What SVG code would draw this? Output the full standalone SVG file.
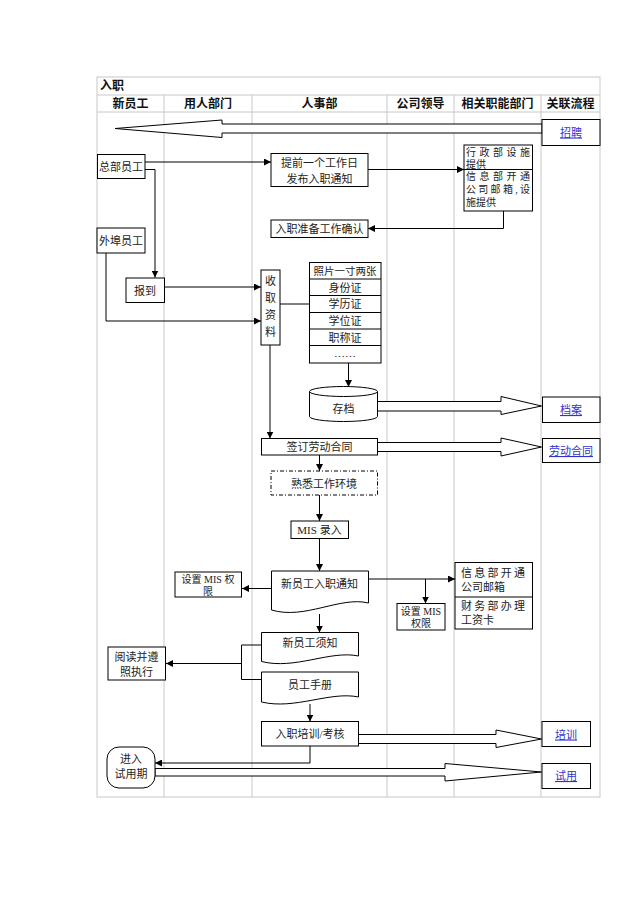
<svg xmlns="http://www.w3.org/2000/svg" width="640" height="905" viewBox="0 0 640 905">
<defs>
<marker id="ah" viewBox="0 0 10 10" refX="10" refY="5" markerWidth="7" markerHeight="7" orient="auto" markerUnits="userSpaceOnUse">
<path d="M0,0 L10,5 L0,10 z" fill="#000"/>
</marker>
<style>
.grid{stroke:#c8c8c8;stroke-width:1;fill:none}
.hd{font-family:"Noto Sans CJK SC","Liberation Sans",sans-serif;font-size:12px;font-weight:bold;fill:#111;text-anchor:middle}
.bx{fill:#fff;stroke:#000;stroke-width:1}
.t{font-family:"Liberation Serif","Noto Sans CJK SC",serif;font-size:11px;fill:#222;text-anchor:middle}
.s{font-size:10px}
.lk{font-family:"Noto Sans CJK SC","Liberation Sans",sans-serif;font-size:11px;fill:#3333cc;text-anchor:middle;text-decoration:underline}
.c{fill:none;stroke:#000;stroke-width:1}
.ca{fill:none;stroke:#000;stroke-width:1;marker-end:url(#ah)}
.fat{fill:#fff;stroke:#000;stroke-width:1}
</style>
</defs>
<rect width="640" height="905" fill="#fff"/>
<g id="table">
<rect class="grid" x="97" y="77" width="503" height="720"/>
<line class="grid" x1="97" y1="95" x2="600" y2="95"/>
<line class="grid" x1="97" y1="112" x2="600" y2="112"/>
<line class="grid" x1="164" y1="95" x2="164" y2="797"/>
<line class="grid" x1="252" y1="95" x2="252" y2="797"/>
<line class="grid" x1="387" y1="95" x2="387" y2="797"/>
<line class="grid" x1="454" y1="95" x2="454" y2="797"/>
<line class="grid" x1="541" y1="95" x2="541" y2="797"/>
<text class="hd" x="100" y="90" style="text-anchor:start">入职</text>
<text class="hd" x="130.5" y="108">新员工</text>
<text class="hd" x="208" y="108">用人部门</text>
<text class="hd" x="319.5" y="108">人事部</text>
<text class="hd" x="420.5" y="108">公司领导</text>
<text class="hd" x="497.5" y="108">相关职能部门</text>
<text class="hd" x="570.5" y="108">关联流程</text>
</g>
<g id="connectors">
<polygon class="fat" points="115,128.5 222,120 222,124 542,124 542,133 222,133 222,137.5"/>
<polygon class="fat" points="377.5,401.5 501,401.5 501,396.5 541.5,406 501,414.5 501,411 377.5,411"/>
<polygon class="fat" points="377.5,442.5 501,442.5 501,438 541.5,447 501,456 501,451.5 377.5,451.5"/>
<polygon class="fat" points="358.5,734.5 496,734.5 496,730 541.5,739 496,747.5 496,743.5 358.5,743.5"/>
<polygon class="fat" points="155,768.5 445,768.5 445,763.5 541.5,772 445,781 445,776 155,776"/>
<path class="ca" d="M145,162 H271"/>
<path class="ca" d="M145,169.5 H155 V277.5"/>
<path class="ca" d="M106,253 V321 H261"/>
<path class="ca" d="M164.5,287 H261"/>
<path class="ca" d="M368,169.5 H464"/>
<path class="ca" d="M503.5,211 V228.5 H368"/>
<path class="c" d="M280,304 H309.5"/>
<path class="ca" d="M348.5,363 V387"/>
<path class="ca" d="M270,345 V438.5"/>
<path class="ca" d="M319.5,455 V471"/>
<path class="ca" d="M319.5,495 V521"/>
<path class="ca" d="M319.5,538.5 V571"/>
<path class="ca" d="M271.5,588.5 H242"/>
<path class="ca" d="M368.5,579 H455"/>
<path class="ca" d="M425.5,579 V603.5"/>
<path class="ca" d="M319.5,614 V632.5"/>
<path class="c" d="M261.5,645 H241.5 V679.5 H261.5"/>
<path class="ca" d="M241.5,663.5 H166"/>
<path class="ca" d="M310,704 V721.5"/>
<path class="ca" d="M310,746 V763 H155"/>
</g>
<g id="n-zhaopin"><rect class="bx" x="542" y="119.5" width="58" height="26"/><text class="lk" x="571" y="136.5">招聘</text></g>
<g id="n-zongbu"><rect class="bx" x="97.5" y="154.5" width="47.5" height="24"/><text class="t" x="121" y="171">总部员工</text></g>
<g id="n-waibu"><rect class="bx" x="97" y="228" width="48" height="25"/><text class="t" x="121" y="245">外埠员工</text></g>
<g id="n-baodao"><rect class="bx" x="126" y="278" width="38.5" height="24.5"/><text class="t" x="145" y="295">报到</text></g>
<g id="n-tiqian"><rect class="bx" x="271" y="153.5" width="97" height="33"/><text class="t" x="319.5" y="166.5">提前一个工作日</text><text class="t" x="319.5" y="182.5">发布入职通知</text></g>
<g id="n-xingzheng"><rect class="bx" x="464" y="145" width="68.5" height="66"/><line class="c" x1="464" y1="169.5" x2="532.5" y2="169.5"/>
<text class="t s" x="466" y="156" textLength="64" lengthAdjust="spacing" style="text-anchor:start">行政部设施</text>
<text class="t s" x="466" y="168" style="text-anchor:start">提供</text>
<text class="t s" x="466" y="180" textLength="64" lengthAdjust="spacing" style="text-anchor:start">信息部开通</text>
<text class="t s" x="466" y="193" textLength="64" lengthAdjust="spacing" style="text-anchor:start">公司邮箱,设</text>
<text class="t s" x="466" y="206" style="text-anchor:start">施提供</text></g>
<g id="n-zhunbei"><rect class="bx" x="271" y="220" width="97" height="17.5"/><text class="t" x="319.5" y="232.5">入职准备工作确认</text></g>
<g id="n-shouqu"><rect class="bx" x="261" y="270" width="19" height="75"/>
<text class="t" x="270.5" y="285">收</text><text class="t" x="270.5" y="302">取</text><text class="t" x="270.5" y="319">资</text><text class="t" x="270.5" y="336">料</text></g>
<g id="n-stack">
<rect class="bx" x="309.5" y="262.5" width="71.5" height="100.5"/>
<line class="c" x1="309.5" y1="279" x2="381" y2="279"/>
<line class="c" x1="309.5" y1="295.5" x2="381" y2="295.5"/>
<line class="c" x1="309.5" y1="312.5" x2="381" y2="312.5"/>
<line class="c" x1="309.5" y1="329" x2="381" y2="329"/>
<line class="c" x1="309.5" y1="345.5" x2="381" y2="345.5"/>
<text class="t" x="345" y="275" style="font-size:10.5px">照片一寸两张</text>
<text class="t" x="345" y="291.5">身份证</text>
<text class="t" x="345" y="308">学历证</text>
<text class="t" x="345" y="325">学位证</text>
<text class="t" x="345" y="341.5">职称证</text>
<text class="t" x="345" y="357">……</text>
</g>
<g id="n-cundang"><path class="bx" d="M309.5,391.5 V416.5 A34,5 0 0 0 377.5,416.5 V391.5"/><ellipse class="bx" cx="343.5" cy="391.5" rx="34" ry="5"/><text class="t" x="343.5" y="413">存档</text></g>
<g id="n-dangan"><rect class="bx" x="542.5" y="397" width="57.5" height="25.5"/><text class="lk" x="571" y="414">档案</text></g>
<g id="n-qianding"><rect class="bx" x="261.5" y="438.5" width="116" height="16.5"/><text class="t" x="319.5" y="451">签订劳动合同</text></g>
<g id="n-laodong"><rect class="bx" x="542.5" y="438.5" width="57.5" height="24"/><text class="lk" x="571" y="455">劳动合同</text></g>
<g id="n-shuxi"><rect class="bx" x="271" y="471" width="106.5" height="24" style="stroke-dasharray:4,2,1,2"/><text class="t" x="324" y="487.5">熟悉工作环境</text></g>
<g id="n-mis"><rect class="bx" x="291" y="521" width="57.5" height="17.5"/><text class="t" x="319.5" y="533.5">MIS 录入</text></g>
<g id="n-tongzhi"><path class="bx" d="M271.5,571 H368.5 V603 C340,596 305,620 271.5,610 Z"/><text class="t" x="319.5" y="588">新员工入职通知</text></g>
<g id="n-mis-left"><rect class="bx" x="175" y="572" width="66.5" height="25"/><text class="t s" x="208" y="582.5">设置 MIS 权</text><text class="t s" x="208" y="594.5">限</text></g>
<g id="n-mis-mid"><rect class="bx" x="397" y="603.5" width="48" height="26.5"/><text class="t s" x="421" y="614.5">设置 MIS</text><text class="t s" x="421" y="627">权限</text></g>
<g id="n-xinxi"><rect class="bx" x="455" y="562.5" width="77.5" height="66.5"/><line class="c" x1="455" y1="597" x2="532.5" y2="597"/>
<text class="t" x="461" y="577" textLength="64" lengthAdjust="spacing" style="text-anchor:start">信息部开通</text>
<text class="t" x="461" y="591" style="text-anchor:start">公司邮箱</text>
<text class="t" x="461" y="610" textLength="64" lengthAdjust="spacing" style="text-anchor:start">财务部办理</text>
<text class="t" x="461" y="624" style="text-anchor:start">工资卡</text></g>
<g id="n-xuzhi"><path class="bx" d="M261.5,632.5 H358.5 V656 C330,650 295,670 261.5,661.5 Z"/><text class="t" x="310" y="647">新员工须知</text></g>
<g id="n-shouce"><path class="bx" d="M261.5,672 H358.5 V697 C330,691 295,710 261.5,702 Z"/><text class="t" x="310" y="689">员工手册</text></g>
<g id="n-yuedu"><rect class="bx" x="108" y="647" width="57.5" height="33"/><text class="t" x="136.5" y="661">阅读并遵</text><text class="t" x="136.5" y="676">照执行</text></g>
<g id="n-peixun"><rect class="bx" x="261.5" y="721.5" width="97" height="24.5"/><text class="t" x="310" y="738">入职培训/考核</text></g>
<g id="n-peixun-link"><rect class="bx" x="542" y="721.5" width="48.5" height="25"/><text class="lk" x="566" y="738.5">培训</text></g>
<g id="n-shiyongqi"><rect class="bx" x="107" y="747" width="48" height="41" rx="12" ry="12"/><text class="t" x="131" y="763">进入</text><text class="t" x="131" y="778">试用期</text></g>
<g id="n-shiyong"><rect class="bx" x="542" y="763.5" width="48.5" height="25"/><text class="lk" x="566" y="780">试用</text></g>
</svg>
